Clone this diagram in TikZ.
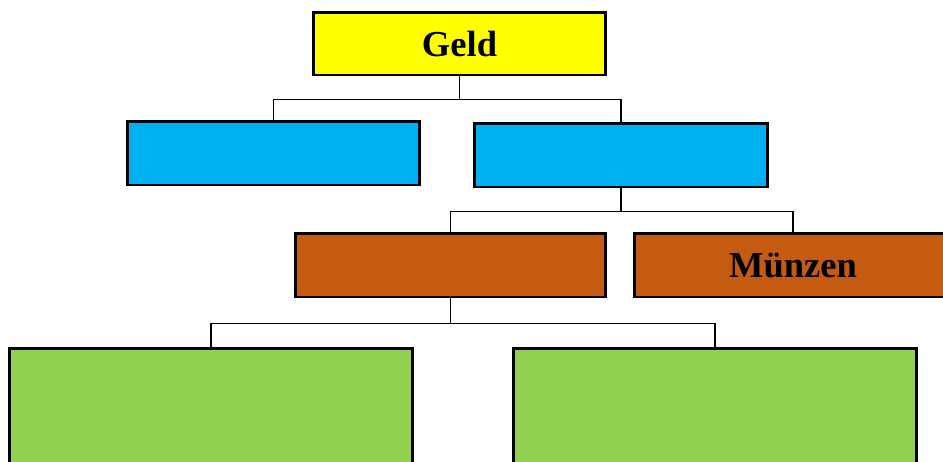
\documentclass[tikz,border=0pt]{standalone}
\usepackage{fontspec}
\setmainfont{Liberation Serif}
\usetikzlibrary{positioning}
\definecolor{geldgelb}{HTML}{FFFF00}
\definecolor{kontoblau}{HTML}{00B0F0}
\definecolor{bargeld}{HTML}{C55A11}
\definecolor{scheingruen}{HTML}{92D050}
\tikzset{
  kasten/.style={draw=black, line width=1.7pt, inner sep=0pt,
    font=\fontsize{20.8}{24}\selectfont\bfseries},
  ast/.style={draw=black, line width=0.8pt}
}
\begin{document}
\begin{tikzpicture}[x=0.02cm, y=-0.02cm]
    \clip (0,0) rectangle (943,461);
    % ebene 1
    \node[kasten, fill=geldgelb, minimum width=5.86cm, minimum height=1.26cm]
          (geld) at (459.5,43.5) {Geld};
    % ebene 2
    \node[kasten, fill=kontoblau, minimum width=5.86cm, minimum height=1.28cm]
          (blauL) at (273.5,153) {};
    \node[kasten, fill=kontoblau, minimum width=5.88cm, minimum height=1.28cm]
          (blauR) at (621,155) {};
    % ebene 3
    \node[kasten, fill=bargeld, minimum width=6.22cm, minimum height=1.28cm]
          (braunL) at (450.5,265) {};
    \node[kasten, fill=bargeld, minimum width=6.36cm, minimum height=1.28cm]
          (muenzen) at (793,265) {Münzen};
    % ebene 4
    \node[kasten, fill=scheingruen, minimum width=8.08cm, minimum height=2.6cm]
          (gruenL) at (211,413) {};
    \node[kasten, fill=scheingruen, minimum width=8.08cm, minimum height=2.6cm]
          (gruenR) at (715,413) {};
    % verbindungen
    \draw[ast] (geld.south) -- ++(0,23) -| (blauL.north);
    \draw[ast] (geld.south) -- ++(0,23) -| (blauR.north);
    \draw[ast] (blauR.south) -- ++(0,23) -| (braunL.north);
    \draw[ast] (blauR.south) -- ++(0,23) -| (muenzen.north);
    \draw[ast] (braunL.south) -- ++(0,25) -| (gruenL.north);
    \draw[ast] (braunL.south) -- ++(0,25) -| (gruenR.north);
\end{tikzpicture}
\end{document}
